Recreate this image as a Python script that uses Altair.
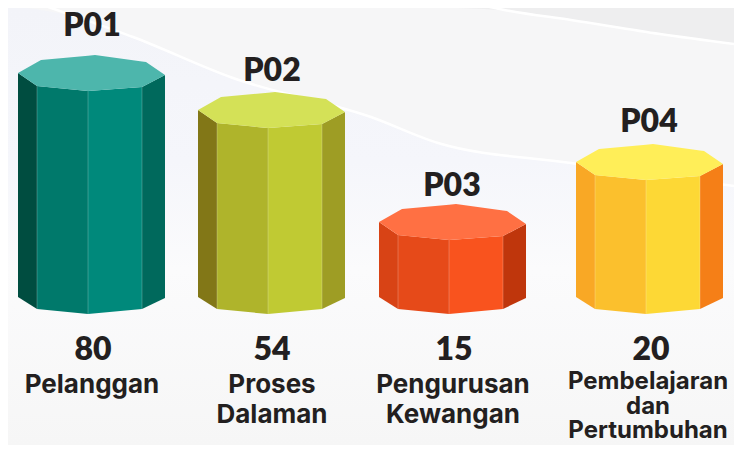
import altair as alt
import numpy as np
import pandas as pd

# ---- chart content
codes = ["P01", "P02", "P03", "P04"]
values = [80, 54, 15, 20]
category_lines = [["Pelanggan"], ["Proses", "Dalaman"], ["Pengurusan", "Kewangan"],
                  ["Pembelajaran", "dan", "Pertumbuhan"]]

# ---- prism geometry (in picture units, y downwards)
prism_left = [18, 198, 379, 576]
prism_top = [73, 110, 222, 162]
prism_base = 297
front_dx = [0, 19, 70, 124, 147]
back_dx = [0, 23, 77, 128, 147]
front_dy = [0, 13, 18, 14, 2]
back_dy = [0, -13, -18, -11, 2]
base_dy = [0, 12, 17, 12, 1]

top_colors = ["#4DB6AC", "#D4E157", "#FF7043", "#FFEE58"]
face_colors = [["#004D40", "#00796B", "#00897B", "#00695C"],
               ["#827717", "#AFB42B", "#C0CA33", "#9E9D24"],
               ["#D84315", "#E64A19", "#F9531E", "#BF360C"],
               ["#F9A825", "#FBC02D", "#FDD835", "#F57F17"]]

# ---- text positions
code_x = [92, 272, 452, 649]
code_y = [36, 81, 196, 132]
value_x = [93, 272, 454, 651]
value_y = 360
cat_x = [92, 272, 453, 648]
cat_y = [393, 393, 393, 389]
cat_step = [30, 30, 30, 24.5]
cat_size = [26, 26, 26, 24]

# ---- background curves
curve_a_x = [28, 80, 133, 233, 371, 438, 571, 660, 742]
curve_a_y = [0, 18, 37, 78, 117, 143, 163, 176, 187]
curve_b_x = [458, 510, 571, 660, 742]
curve_b_y = [0, 11, 20, 34, 45]
band_x = [8, 30, 70]
band_y = [23, 23, 23]

X0, X1, Y0, Y1 = 8, 734, 8, 445
W, H = X1 - X0, Y1 - Y0

xs = alt.Scale(domain=[X0, X1], nice=False, zero=False)
ys = alt.Scale(domain=[Y1, Y0], nice=False, zero=False)
X = alt.X("x:Q", scale=xs, axis=None)
Y = alt.Y("y:Q", scale=ys, axis=None)

# faces
face_rows, edge_rows = [], []
for i, (l, t) in enumerate(zip(prism_left, prism_top)):
    for k in range(4):
        for j in (k, k + 1):
            face_rows.append({"x": l + front_dx[j], "y": t + front_dy[j],
                              "y2": prism_base + base_dy[j],
                              "id": f"{i}-{k}", "fill": face_colors[i][k]})
    for j in (1, 2, 3):
        edge_rows.append({"x": l + front_dx[j], "y": t + front_dy[j],
                          "y2": prism_base + base_dy[j]})
    # top octagon: upper (back) and lower (front) outline on a common x grid
    grid = sorted(set(front_dx + back_dx))
    up = np.interp(grid, back_dx, back_dy)
    lo = np.interp(grid, front_dx, front_dy)
    for g, a, b in zip(grid, up, lo):
        face_rows.append({"x": l + g, "y": t + a, "y2": t + b,
                          "id": f"{i}-top", "fill": top_colors[i]})
faces = pd.DataFrame(face_rows)
edges = pd.DataFrame(edge_rows)

face_layer = alt.Chart(faces).mark_area(interpolate="linear", strokeWidth=0).encode(
    x=X, y=Y, y2="y2:Q", detail="id:N", color=alt.Color("fill:N", scale=None))
edge_layer = alt.Chart(edges).mark_rule(color="#ffffff", opacity=0.22, strokeWidth=1).encode(
    x=X, y=Y, y2="y2:Q")

# background
def grad(stops):
    return alt.Gradient(gradient="linear", x1=0, x2=0, y1=0, y2=1,
                        stops=[alt.GradientStop(color=c, offset=o) for o, c in stops])

base_df = pd.DataFrame({"x": [X0, X1], "y": [Y0, Y0], "y2": [Y1, Y1]})
base = alt.Chart(base_df).mark_area(
    color=grad([(0, "#f3f4f9"), (0.35, "#f5f6fb"), (0.6, "#fbfbfc"), (1, "#f6f6f6")])
).encode(x=X, y=Y, y2="y2:Q")

ax = np.array(curve_a_x, dtype=float)
ay = np.array(curve_a_y, dtype=float)
mid_df = pd.DataFrame({"x": ax, "y": np.maximum(ay, Y0), "y2": [Y0] * len(ax)})
mid = alt.Chart(mid_df).mark_area(color="#f6f6f7", interpolate="monotone", clip=True).encode(x=X, y=Y, y2="y2:Q")

bx = np.array(curve_b_x, dtype=float)
by = np.array(curve_b_y, dtype=float)
up_df = pd.DataFrame({"x": bx, "y": np.maximum(by, Y0), "y2": [Y0] * len(bx)})
upper = alt.Chart(up_df).mark_area(color="#eeeeef", interpolate="monotone", clip=True).encode(x=X, y=Y, y2="y2:Q")

line_a = alt.Chart(pd.DataFrame({"x": ax, "y": ay})).mark_line(
    color="#ffffff", strokeWidth=2.5, interpolate="monotone", clip=True).encode(x=X, y=Y)
line_b = alt.Chart(pd.DataFrame({"x": bx, "y": by})).mark_line(
    color="#ffffff", strokeWidth=2.5, interpolate="monotone", clip=True).encode(x=X, y=Y)
band = alt.Chart(pd.DataFrame({"x": band_x, "y": band_y})).mark_line(
    strokeWidth=4, color=alt.Gradient(gradient="linear", x1=0, x2=1, y1=0, y2=0, stops=[
        alt.GradientStop(color="#ffffff", offset=0.5),
        alt.GradientStop(color="#f3f4f9", offset=1)])).encode(x=X, y=Y)

# text
FONT = "Lato"
INK = "#231f20"
code_df = pd.DataFrame({"x": code_x, "y": code_y, "t": codes})
code_layer = alt.Chart(code_df).mark_text(
    font=FONT, fontSize=32, fontWeight=800, color=INK, baseline="alphabetic"
).encode(x=X, y=Y, text="t:N")

value_df = pd.DataFrame({"x": value_x, "y": [value_y] * 4, "t": [str(v) for v in values]})
value_layer = alt.Chart(value_df).mark_text(
    font=FONT, fontSize=32, fontWeight=800, color=INK, baseline="alphabetic"
).encode(x=X, y=Y, text="t:N")

cat_rows = []
for cx, cy, step, sz, lines in zip(cat_x, cat_y, cat_step, cat_size, category_lines):
    for n, s in enumerate(lines):
        cat_rows.append({"x": cx, "y": cy + n * step, "t": s, "sz": sz})
cat_layer = alt.Chart(pd.DataFrame(cat_rows)).mark_text(
    font="Inter", fontWeight=700, color=INK, baseline="alphabetic"
).encode(x=X, y=Y, text="t:N", size=alt.Size("sz:Q", scale=None, legend=None))

chart = alt.layer(base, mid, upper, line_a, line_b, band, face_layer, edge_layer,
                  code_layer, value_layer, cat_layer).properties(
    width=W, height=H, padding=0, autosize=alt.AutoSizeParams(type="none")
).configure_view(stroke=None)

chart.save("out.html", embed_options={"renderer": "svg", "actions": False})
